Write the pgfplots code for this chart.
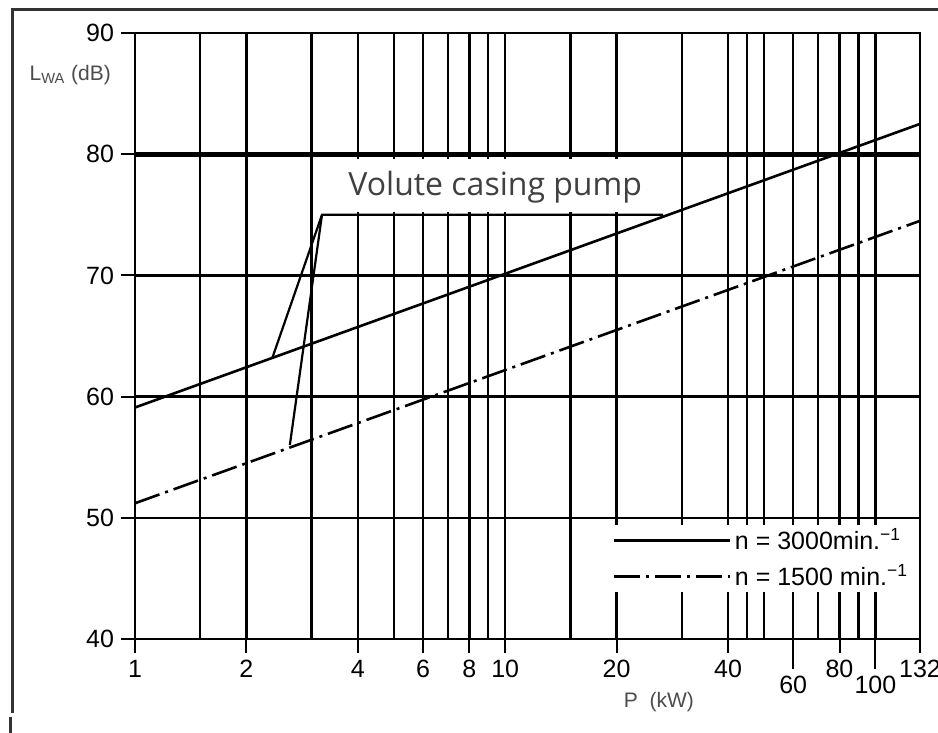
\documentclass[border=0pt]{standalone}
\usepackage{fontspec}
\setmainfont{Liberation Sans}
\newfontfamily\osans{Open Sans}
\usepackage{pgfplots}
\pgfplotsset{compat=1.18}
\begin{document}
\begin{tikzpicture}
\begin{axis}[
  at={(0,0)}, anchor=south west,
  scale only axis, width=392.5pt, height=303pt,
  xmode=log, xmin=1, xmax=132, ymin=40, ymax=90,
  xtick={1,2,4,6,8,10,20,40,80,132},
  xticklabels={1,2,4,6,8,10,20,40,80,132},
  extra x ticks={60,100},
  extra x tick labels={60,100},
  extra x tick style={major tick length=15pt},
  minor xtick={1.5,3,5,7,9,15,30,45,50,70,90},
  ytick={40,50,60,70,90},
  extra y ticks={80},
  extra y tick labels={80},
  extra y tick style={major grid style={black, line width=2.6pt}},
  xmajorgrids, xminorgrids, ymajorgrids,
  major grid style={black, line width=1.2pt},
  minor grid style={black, line width=1.2pt},
  tick align=outside, major tick length=7pt, minor tick length=0pt,
  xtick pos=bottom, ytick pos=left,
  tick style={black, line width=1pt},
  axis line style={black, line width=1.2pt},
  ticklabel style={font=\fontsize{12.5}{14}\selectfont},
  /pgf/number format/assume math mode=true,
  clip=false,
  xlabel={P\ \ (kW)},
  xlabel style={at={(rel axis cs:0.6675,-0.104)}, anchor=center, font=\fontsize{10.5}{12}\selectfont, text=black!70},
  ylabel={L\textsubscript{WA} (dB)},
  ylabel style={at={(rel axis cs:-0.0217,0.9307)}, rotate=-90, anchor=east, font=\fontsize{10.5}{12}\selectfont, text=black!70},
  legend style={at={(0.6076,0.1328)}, anchor=west, draw=none, fill=white, inner sep=0pt, row sep=2pt, font=\fontsize{12.5}{14}\selectfont, nodes={inner sep=2pt}},
  legend cell align=left,
  legend image code/.code={\draw[#1] (0pt,0pt) -- (58pt,0pt);},
]
\fill[white] (axis cs:3.22,75.25) rectangle (axis cs:27.3,79.6);
\addplot[black, line width=1.3pt] coordinates {(1,59.1) (132,82.5)};
\addlegendentry{n = 3000min.\textsuperscript{−1}}
\addplot[black, line width=1.3pt, dash pattern=on 13pt off 3pt on 1.5pt off 3pt] coordinates {(1,51.2) (132,74.5)};
\addlegendentry{n = 1500 min.\textsuperscript{−1}}
\addplot[black, line width=1.1pt, forget plot] coordinates {(2.35,63.2) (3.2,75) (26.7,75)};
\addplot[black, line width=1.1pt, forget plot] coordinates {(2.62,56.0) (3.2,75)};
\node[font=\osans\fontsize{16}{18}\selectfont, text=black!75, anchor=base] at (axis cs:9.4,76.6) {Volute casing pump};
\end{axis}
\draw[black!80, line width=1.5pt] (401.5pt,314.5pt) -- (-61pt,314.5pt) -- (-61pt,-37pt);
\draw[black!80, line width=1.5pt] (-62pt,-39pt) -- (-62pt,-47pt);
\pgfresetboundingbox
\useasboundingbox (-67.5pt,-47pt) rectangle (401.5pt,319.5pt);
\end{tikzpicture}
\end{document}
